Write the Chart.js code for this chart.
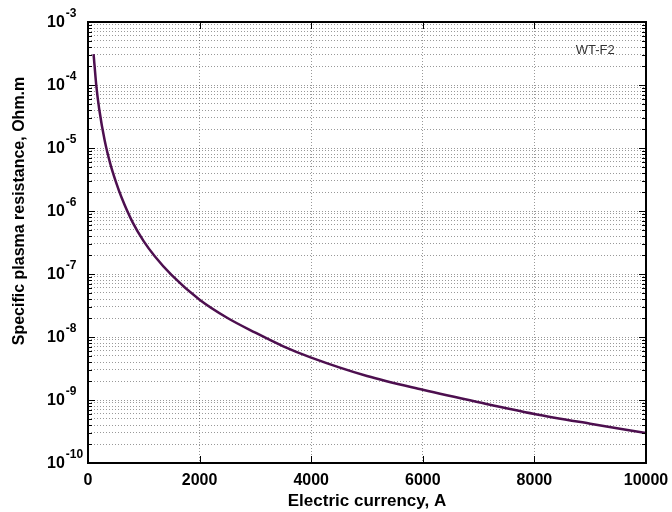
<!DOCTYPE html>
<html>
<head>
<meta charset="utf-8">
<script src="https://cdn.jsdelivr.net/npm/chart.js@4.4.1/dist/chart.umd.min.js"></script>
<style>
  body { margin: 0; background: #fff; }
</style>
</head>
<body>
<canvas id="resistanceChart" width="672" height="512"></canvas>
<script>
// electric current, A
var currents = [100, 150, 200, 300, 400, 500, 600, 800, 1000, 1200, 1500, 2000, 2500, 3000, 3500, 4000, 5000, 6000, 7000, 8000, 9000, 10000];
// specific plasma resistance, Ohm.m
var resistance = [3.1e-4, 9.5e-5, 4.2e-5, 1.3e-5, 5.6e-6, 2.9e-6, 1.65e-6, 6.6e-7, 3.3e-7, 1.9e-7, 9.6e-8, 3.9e-8, 2.0e-8, 1.17e-8, 7.1e-9, 4.7e-9, 2.4e-9, 1.45e-9, 9.2e-10, 6.0e-10, 4.2e-10, 3.0e-10];

var xTicks = [0, 2000, 4000, 6000, 8000, 10000];
var yExponents = [-10, -9, -8, -7, -6, -5, -4, -3];
var yMinor = [2, 3, 4, 5, 6, 7, 8, 9];

var seriesLabel = 'WT-F2';
var labelAt = { x: 9090, y: 3.6e-4 };
var yTitle = 'Specific plasma resistance, Ohm.m';

var FONT = '"Liberation Sans", Arial, sans-serif';

var points = currents.map(function(c, i) {
    return { x: c, y: resistance[i] };
});

// log ticks: every 1..9 x 10^n
var yTickList = [];
yExponents.forEach(function(e, i) {
    yTickList.push({ value: parseFloat('1e' + e), major: true });
    if (i < yExponents.length - 1) {
        yMinor.forEach(function(m) {
            yTickList.push({ value: parseFloat(m + 'e' + e), major: false });
        });
    }
});

var framePlugin = {
    id: 'framePlugin',
    afterDatasetsDraw: function(chart) {
        var ctx = chart.ctx;
        var a = chart.chartArea;
        var xs = chart.scales.x;
        var ys = chart.scales.y;
        ctx.save();

        // inward tick marks
        ctx.strokeStyle = '#000';
        ctx.lineWidth = 1;
        ctx.beginPath();
        yTickList.forEach(function(t) {
            var py = Math.round(ys.getPixelForValue(t.value)) + 0.5;
            var len = t.major ? 7 : 4;
            ctx.moveTo(a.left, py); ctx.lineTo(a.left + len, py);
            ctx.moveTo(a.right, py); ctx.lineTo(a.right - len, py);
        });
        xTicks.forEach(function(v) {
            var px = Math.round(xs.getPixelForValue(v)) + 0.5;
            ctx.moveTo(px, a.bottom); ctx.lineTo(px, a.bottom - 7);
            ctx.moveTo(px, a.top); ctx.lineTo(px, a.top + 7);
        });
        ctx.stroke();

        // axes box
        ctx.lineWidth = 2;
        ctx.strokeRect(a.left, a.top, a.right - a.left, a.bottom - a.top);

        // y tick labels 10^n
        ctx.fillStyle = '#000';
        ctx.textAlign = 'left';
        ctx.textBaseline = 'middle';
        yExponents.forEach(function(e) {
            var py = ys.getPixelForValue(parseFloat('1e' + e));
            ctx.font = 'bold 16px ' + FONT;
            ctx.fillText('10', 47, py + 1);
            var w = ctx.measureText('10').width;
            ctx.font = 'bold 12px ' + FONT;
            ctx.fillText('-' + Math.abs(e), 47 + w + 1, py - 8);
        });

        // y axis title (sits above the plot centre in the original)
        ctx.save();
        ctx.translate(20, 211);
        ctx.rotate(-Math.PI / 2);
        ctx.textAlign = 'center';
        ctx.font = 'bold 16px ' + FONT;
        ctx.fillText(yTitle, 0, 0);
        ctx.restore();

        // series label
        ctx.font = '13px ' + FONT;
        ctx.fillStyle = '#333';
        ctx.textAlign = 'center';
        ctx.fillText(seriesLabel, xs.getPixelForValue(labelAt.x), ys.getPixelForValue(labelAt.y));
        ctx.restore();
    }
};

var ctx = document.getElementById('resistanceChart').getContext('2d');
var resistanceChart = new Chart(ctx, {
    type: 'line',
    data: {
        datasets: [{
            label: seriesLabel,
            data: points,
            borderColor: '#4d0f4f',
            backgroundColor: '#4d0f4f',
            borderWidth: 2.5,
            pointRadius: 0,
            cubicInterpolationMode: 'monotone',
            fill: false
        }]
    },
    options: {
        responsive: false,
        animation: false,
        layout: { padding: { top: 22, right: 26, left: 0, bottom: 0 } },
        plugins: {
            legend: { display: false },
            tooltip: { enabled: false }
        },
        scales: {
            x: {
                type: 'linear',
                min: 0,
                max: 10000,
                afterBuildTicks: function(scale) {
                    scale.ticks = xTicks.map(function(v) { return { value: v }; });
                },
                afterFit: function(scale) {
                    scale.height = 49;
                    scale.paddingLeft = 0;
                    scale.paddingRight = 0;
                },
                ticks: {
                    color: '#000',
                    padding: 8,
                    callback: function(v) { return String(v); },
                    font: { family: FONT, size: 16, weight: 'bold' }
                },
                grid: {
                    color: 'rgba(0,0,0,0.4)',
                    lineWidth: 1,
                    drawTicks: false
                },
                border: { display: false, dash: [1, 2] },
                title: {
                    display: true,
                    text: 'Electric currency, A',
                    color: '#000',
                    padding: { top: 0, bottom: 0 },
                    font: { family: FONT, size: 17, weight: 'bold' }
                }
            },
            y: {
                type: 'logarithmic',
                min: 1e-10,
                max: 1e-3,
                afterBuildTicks: function(scale) {
                    scale.ticks = yTickList.map(function(t) { return { value: t.value, major: t.major }; });
                },
                afterFit: function(scale) {
                    scale.width = 88;
                    scale.paddingTop = 0;
                    scale.paddingBottom = 0;
                },
                ticks: { display: false, autoSkip: false },
                grid: {
                    color: 'rgba(0,0,0,0.4)',
                    lineWidth: 1,
                    drawTicks: false
                },
                border: { display: false, dash: [1, 2] }
            }
        }
    },
    plugins: [framePlugin]
});
</script>
</body>
</html>
